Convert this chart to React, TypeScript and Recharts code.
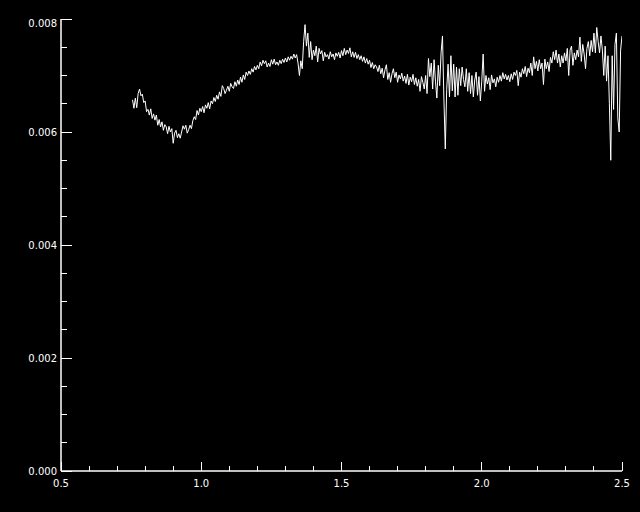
import React from "react";
import { LineChart, Line, XAxis, YAxis } from "recharts";

const wavelengths = [
  0.755, 0.76, 0.765, 0.77, 0.775, 0.78, 0.785, 0.79, 0.795, 0.8,
  0.805, 0.81, 0.815, 0.82, 0.825, 0.83, 0.835, 0.84, 0.845, 0.85,
  0.855, 0.86, 0.865, 0.87, 0.875, 0.88, 0.885, 0.89, 0.895, 0.9,
  0.905, 0.91, 0.915, 0.92, 0.925, 0.93, 0.935, 0.94, 0.945, 0.95,
  0.955, 0.96, 0.965, 0.97, 0.975, 0.98, 0.985, 0.99, 0.995, 1.0,
  1.005, 1.01, 1.015, 1.02, 1.025, 1.03, 1.035, 1.04, 1.045, 1.05,
  1.055, 1.06, 1.065, 1.07, 1.075, 1.08, 1.085, 1.09, 1.095, 1.1,
  1.105, 1.11, 1.115, 1.12, 1.125, 1.13, 1.135, 1.14, 1.145, 1.15,
  1.155, 1.16, 1.165, 1.17, 1.175, 1.18, 1.185, 1.19, 1.195, 1.2,
  1.205, 1.21, 1.215, 1.22, 1.225, 1.23, 1.235, 1.24, 1.245, 1.25,
  1.255, 1.26, 1.265, 1.27, 1.275, 1.28, 1.285, 1.29, 1.295, 1.3,
  1.305, 1.31, 1.315, 1.32, 1.325, 1.33, 1.335, 1.34, 1.345, 1.35,
  1.355, 1.36, 1.365, 1.37, 1.375, 1.38, 1.385, 1.39, 1.395, 1.4,
  1.405, 1.41, 1.415, 1.42, 1.425, 1.43, 1.435, 1.44, 1.445, 1.45,
  1.455, 1.46, 1.465, 1.47, 1.475, 1.48, 1.485, 1.49, 1.495, 1.5,
  1.505, 1.51, 1.515, 1.52, 1.525, 1.53, 1.535, 1.54, 1.545, 1.55,
  1.555, 1.56, 1.565, 1.57, 1.575, 1.58, 1.585, 1.59, 1.595, 1.6,
  1.605, 1.61, 1.615, 1.62, 1.625, 1.63, 1.635, 1.64, 1.645, 1.65,
  1.655, 1.66, 1.665, 1.67, 1.675, 1.68, 1.685, 1.69, 1.695, 1.7,
  1.705, 1.71, 1.715, 1.72, 1.725, 1.73, 1.735, 1.74, 1.745, 1.75,
  1.755, 1.76, 1.765, 1.77, 1.775, 1.78, 1.785, 1.79, 1.795, 1.8,
  1.805, 1.81, 1.815, 1.82, 1.825, 1.83, 1.835, 1.84, 1.845, 1.85,
  1.855, 1.86, 1.865, 1.87, 1.875, 1.88, 1.885, 1.89, 1.895, 1.9,
  1.905, 1.91, 1.915, 1.92, 1.925, 1.93, 1.935, 1.94, 1.945, 1.95,
  1.955, 1.96, 1.965, 1.97, 1.975, 1.98, 1.985, 1.99, 1.995, 2.0,
  2.005, 2.01, 2.015, 2.02, 2.025, 2.03, 2.035, 2.04, 2.045, 2.05,
  2.055, 2.06, 2.065, 2.07, 2.075, 2.08, 2.085, 2.09, 2.095, 2.1,
  2.105, 2.11, 2.115, 2.12, 2.125, 2.13, 2.135, 2.14, 2.145, 2.15,
  2.155, 2.16, 2.165, 2.17, 2.175, 2.18, 2.185, 2.19, 2.195, 2.2,
  2.205, 2.21, 2.215, 2.22, 2.225, 2.23, 2.235, 2.24, 2.245, 2.25,
  2.255, 2.26, 2.265, 2.27, 2.275, 2.28, 2.285, 2.29, 2.295, 2.3,
  2.305, 2.31, 2.315, 2.32, 2.325, 2.33, 2.335, 2.34, 2.345, 2.35,
  2.355, 2.36, 2.365, 2.37, 2.375, 2.38, 2.385, 2.39, 2.395, 2.4,
  2.405, 2.41, 2.415, 2.42, 2.425, 2.43, 2.435, 2.44, 2.445, 2.45,
  2.455, 2.46, 2.465, 2.47, 2.475, 2.48, 2.485, 2.49, 2.495, 2.5,
];

const flux = [
  0.00657, 0.00642, 0.0066, 0.00643, 0.00668, 0.00676, 0.00664, 0.00667, 0.00652, 0.00655,
  0.00636, 0.0064, 0.0063, 0.00641, 0.00624, 0.00632, 0.00621, 0.0063, 0.00612, 0.00622,
  0.00609, 0.00618, 0.00603, 0.00613, 0.00609, 0.00597, 0.0061, 0.006, 0.00606, 0.0058,
  0.00598, 0.00603, 0.0059, 0.00597, 0.00589, 0.006, 0.00611, 0.00605, 0.00612, 0.00598,
  0.00604, 0.00612, 0.00606, 0.0062, 0.00627, 0.00622, 0.00638, 0.0063, 0.00642, 0.00636,
  0.00645, 0.00634, 0.00648, 0.00642, 0.00652, 0.00641, 0.00655, 0.0065, 0.00661, 0.00654,
  0.00665, 0.00658, 0.00671, 0.00663, 0.00682, 0.00677, 0.00668, 0.00674, 0.00681, 0.00672,
  0.00686, 0.0068, 0.00677, 0.00689, 0.00681, 0.00692, 0.00684, 0.00697, 0.00688, 0.00701,
  0.00693, 0.00706, 0.007, 0.00708, 0.00702, 0.00712, 0.00706, 0.00716, 0.0071, 0.00718,
  0.00712, 0.00724, 0.00717, 0.00727, 0.00721, 0.00726, 0.00715, 0.00722, 0.00716, 0.00728,
  0.0072, 0.00729, 0.00719, 0.00724, 0.00718, 0.00727, 0.00721, 0.00729, 0.00723, 0.00731,
  0.00724, 0.00733, 0.00727, 0.00734, 0.00729, 0.00738, 0.00731, 0.00737, 0.00722, 0.007,
  0.00726, 0.00712, 0.0076, 0.0079, 0.00752, 0.00775, 0.00732, 0.0076, 0.00728, 0.00745,
  0.00735, 0.00752, 0.00724, 0.00748, 0.00738, 0.00744, 0.00726, 0.00741, 0.00733, 0.00737,
  0.00729, 0.00742, 0.00733, 0.00738, 0.00728, 0.0074, 0.00734, 0.00741, 0.00731, 0.00744,
  0.00735, 0.00748, 0.00737, 0.00745, 0.00739, 0.00749, 0.00733, 0.00742, 0.00732, 0.00741,
  0.0073, 0.00737, 0.00728, 0.00735, 0.00725, 0.00733, 0.00722, 0.0073, 0.0072, 0.00727,
  0.00714, 0.00723, 0.00712, 0.00719, 0.00715, 0.00707, 0.00718, 0.00703, 0.00713, 0.00696,
  0.0071, 0.00719, 0.00693, 0.00705, 0.00688, 0.00703, 0.00712, 0.00696, 0.00706, 0.00688,
  0.00701, 0.00694, 0.00704, 0.0069, 0.00699, 0.00686, 0.00702, 0.00683, 0.00697, 0.00689,
  0.00702, 0.00684, 0.00696, 0.00681, 0.00693, 0.00672, 0.00698, 0.00688, 0.00676, 0.007,
  0.00668, 0.0073, 0.00698, 0.00722, 0.00676, 0.00728, 0.0069, 0.0066, 0.00718, 0.00682,
  0.0074, 0.0077, 0.0066, 0.0057, 0.00675, 0.0072, 0.00662, 0.00735, 0.00673, 0.0072,
  0.00662, 0.00715, 0.00665, 0.00712, 0.00682, 0.00715, 0.00693, 0.0068, 0.00712, 0.00672,
  0.00705, 0.00668, 0.007, 0.00662, 0.00692, 0.00706, 0.00665, 0.00698, 0.00655, 0.0069,
  0.00738, 0.00672, 0.007, 0.00685, 0.00696, 0.00675, 0.00701, 0.00687, 0.00694, 0.0068,
  0.00697, 0.00688, 0.007, 0.0069, 0.00705, 0.00694, 0.00702, 0.00692, 0.007, 0.00689,
  0.00703, 0.00693, 0.00706, 0.007, 0.00709, 0.00682, 0.00706, 0.00697, 0.00712, 0.00703,
  0.00716, 0.00698, 0.00713, 0.00705, 0.00722, 0.007, 0.00733, 0.00712, 0.00725, 0.00708,
  0.00728, 0.00712, 0.00722, 0.00684, 0.00729, 0.00712, 0.00724, 0.00707, 0.00732, 0.00722,
  0.00742, 0.00728, 0.00745, 0.00722, 0.00738, 0.00715, 0.00735, 0.00722, 0.0074, 0.00726,
  0.00748, 0.007, 0.00745, 0.00752, 0.00718, 0.0074, 0.00728, 0.00745, 0.00733, 0.00768,
  0.00725, 0.00755, 0.00738, 0.00712, 0.00748, 0.0076, 0.00735, 0.00762, 0.00742, 0.00775,
  0.0074, 0.00785, 0.0076, 0.0074, 0.0077, 0.00745, 0.007, 0.00752, 0.0069, 0.00735,
  0.0065, 0.0055, 0.00735, 0.0064, 0.00755, 0.00775, 0.00625, 0.006, 0.00745, 0.0077,
];

const xTicks = [
  0.5, 0.6, 0.7, 0.8, 0.9, 1.0, 1.1, 1.2, 1.3, 1.4, 1.5, 1.6, 1.7, 1.8, 1.9, 2.0,
  2.1, 2.2, 2.3, 2.4, 2.5,
];
const xMajor = [0.5, 1.0, 1.5, 2.0, 2.5];
const yTicks = [
  0, 0.0005, 0.001, 0.0015, 0.002, 0.0025, 0.003, 0.0035, 0.004, 0.0045, 0.005,
  0.0055, 0.006, 0.0065, 0.007, 0.0075, 0.008,
];
const yMajor = [0, 0.002, 0.004, 0.006, 0.008];

const data = wavelengths.map((w, i) => ({ w, f: flux[i] }));

const FONT = "DejaVu Sans, sans-serif";
const isIn = (v: number, arr: number[]) => arr.some((a) => Math.abs(a - v) < 1e-9);

const BottomTick = (props: any) => {
  const { x, y, payload } = props;
  const major = isIn(payload.value, xMajor);
  return (
    <g>
      <line x1={x} y1={y} x2={x} y2={y - (major ? 9 : 5)} stroke="#fff" strokeWidth={1} shapeRendering="crispEdges" />
      {major && (
        <text x={x} y={y + 16} textAnchor="middle" fill="#fff" fontSize={10} fontFamily={FONT}>
          {payload.value.toFixed(1)}
        </text>
      )}
    </g>
  );
};

const TopTick = (props: any) => {
  const { x, y, payload } = props;
  const major = isIn(payload.value, xMajor);
  return <line x1={x} y1={y} x2={x} y2={y + (major ? 9 : 5)} stroke="#fff" strokeWidth={1} shapeRendering="crispEdges" />;
};

const LeftTick = (props: any) => {
  const { x, y, payload } = props;
  const major = isIn(payload.value, yMajor);
  const isTop = isIn(payload.value, [0.008]);
  return (
    <g>
      <line x1={x} y1={y} x2={x + (major ? 11 : 6)} y2={y} stroke="#fff" strokeWidth={1} shapeRendering="crispEdges" />
      {major && (
        <text x={x - 4} y={y + (isTop ? 8 : 3.5)} textAnchor="end" fill="#fff" fontSize={10} fontFamily={FONT}>
          {payload.value.toFixed(3)}
        </text>
      )}
    </g>
  );
};

const RightTick = (props: any) => {
  const { x, y, payload } = props;
  const major = isIn(payload.value, yMajor);
  return <line x1={x} y1={y} x2={x - (major ? 11 : 6)} y2={y} stroke="#fff" strokeWidth={1} shapeRendering="crispEdges" />;
};

const axisStyle = { stroke: "#fff", strokeWidth: 1.5 };

export default function App() {
  return (
    <div style={{ position: "absolute", left: 0, top: 0, width: 640, height: 512, background: "#000" }}>
      <LineChart width={640} height={512} data={data} margin={{ top: 19, right: 18, bottom: 0, left: 0 }}>
        <XAxis
          xAxisId="b"
          dataKey="w"
          type="number"
          domain={[0.5, 2.5]}
          ticks={xTicks}
          interval={0}
          height={41}
          tickSize={0}
          tickMargin={0}
          tickLine={false}
          axisLine={axisStyle}
          tick={<BottomTick />}
          allowDataOverflow
        />
        <XAxis
          xAxisId="t"
          orientation="top"
          dataKey="w"
          type="number"
          domain={[0.5, 2.5]}
          ticks={xTicks}
          interval={0}
          height={0}
          tickSize={0}
          tickMargin={0}
          tickLine={false}
          axisLine={axisStyle}
          tick={<TopTick />}
          allowDataOverflow
        />
        <YAxis
          yAxisId="l"
          type="number"
          domain={[0, 0.008]}
          ticks={yTicks}
          interval={0}
          width={61}
          tickSize={0}
          tickMargin={0}
          tickLine={false}
          axisLine={axisStyle}
          tick={<LeftTick />}
          allowDataOverflow
        />
        <YAxis
          yAxisId="r"
          orientation="right"
          type="number"
          domain={[0, 0.008]}
          ticks={yTicks}
          interval={0}
          width={0}
          tickSize={0}
          tickMargin={0}
          tickLine={false}
          axisLine={axisStyle}
          tick={<RightTick />}
          allowDataOverflow
        />
        <Line
          xAxisId="b"
          yAxisId="l"
          dataKey="f"
          type="linear"
          stroke="#fff"
          strokeWidth={1}
          dot={false}
          isAnimationActive={false}
        />
      </LineChart>
    </div>
  );
}
